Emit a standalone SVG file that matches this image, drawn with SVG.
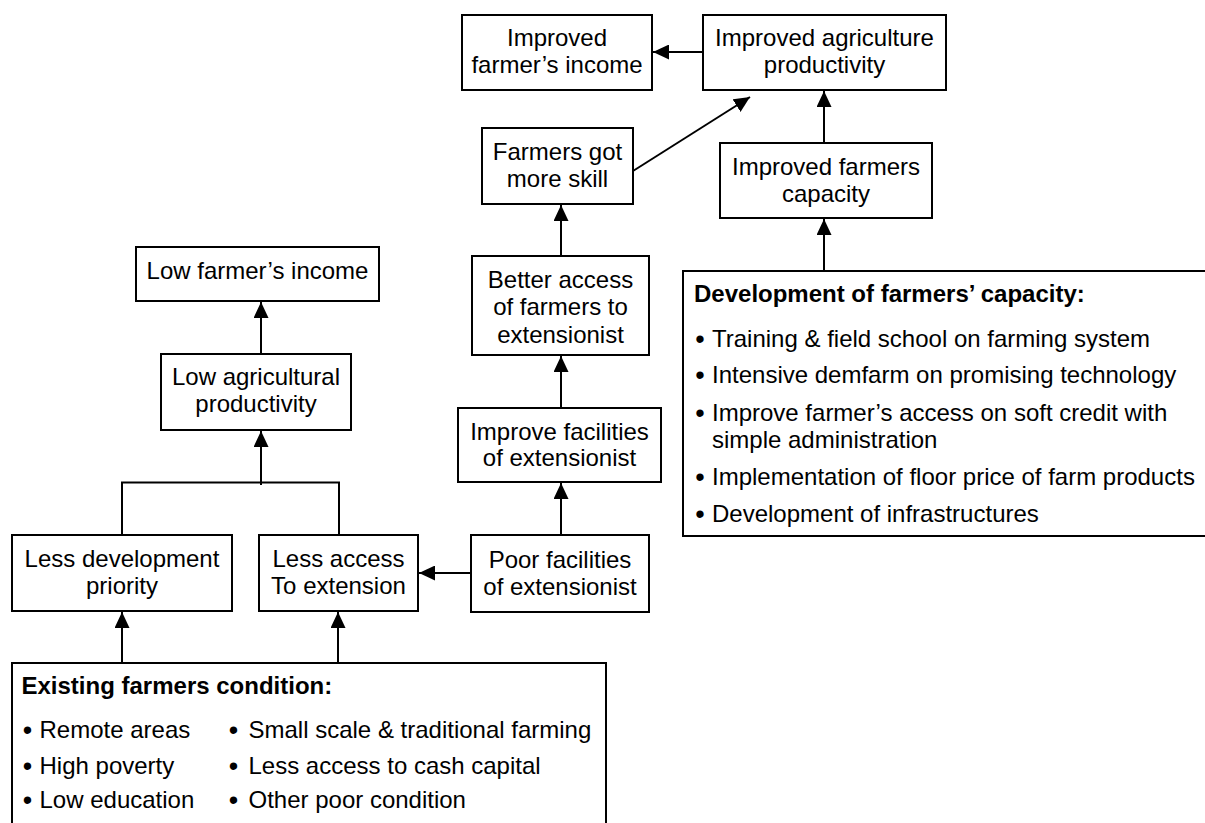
<svg xmlns="http://www.w3.org/2000/svg" width="1205" height="823" viewBox="0 0 1205 823">
<style>
.box{fill:#fff;stroke:#000;stroke-width:2}
.t{font-family:"Liberation Sans",Arial,sans-serif;font-size:24px;fill:#000}
.c{text-anchor:middle}
.b{font-weight:bold}
.bul{font-family:"Liberation Sans",Arial,sans-serif;font-size:27px;fill:#000;text-anchor:middle}
.ln{fill:none;stroke:#000;stroke-width:2}
</style>
<defs>
<marker id="ah" markerUnits="userSpaceOnUse" markerWidth="16" markerHeight="15" refX="16" refY="7.5" orient="auto">
<path d="M0,0 L16,7.5 L0,15 z" fill="#000"/>
</marker>
</defs>
<rect width="1205" height="823" fill="#fff"/>

<g id="connectors">
<line class="ln" x1="703" y1="52" x2="653" y2="52" marker-end="url(#ah)"/>
<line class="ln" x1="633" y1="171" x2="750" y2="97" marker-end="url(#ah)"/>
<line class="ln" x1="824" y1="143" x2="824" y2="91" marker-end="url(#ah)"/>
<line class="ln" x1="824" y1="271" x2="824" y2="219" marker-end="url(#ah)"/>
<line class="ln" x1="561" y1="256" x2="561" y2="205" marker-end="url(#ah)"/>
<line class="ln" x1="561" y1="408" x2="561" y2="356" marker-end="url(#ah)"/>
<line class="ln" x1="561" y1="535" x2="561" y2="483" marker-end="url(#ah)"/>
<line class="ln" x1="471" y1="573" x2="419" y2="573" marker-end="url(#ah)" stroke="#333"/>
<line class="ln" x1="261" y1="354" x2="261" y2="302" marker-end="url(#ah)"/>
<line class="ln" x1="261" y1="485" x2="261" y2="431" marker-end="url(#ah)"/>
<polyline class="ln" points="122,535 122,482.5 339,482.5 339,535"/>
<line class="ln" x1="122" y1="663" x2="122" y2="612" marker-end="url(#ah)"/>
<line class="ln" x1="338" y1="663" x2="338" y2="612" marker-end="url(#ah)"/>
</g>

<g id="improved-income">
<rect class="box" x="462" y="15" width="190" height="75"/>
<text class="t c" x="557" y="45.5">Improved</text>
<text class="t c" x="557" y="73">farmer’s income</text>
</g>

<g id="improved-productivity">
<rect class="box" x="703" y="15" width="243" height="75"/>
<text class="t c" x="824.5" y="45.5">Improved agriculture</text>
<text class="t c" x="824.5" y="73">productivity</text>
</g>

<g id="more-skill">
<rect class="box" x="482" y="128" width="151" height="76"/>
<text class="t c" x="557.5" y="160">Farmers got</text>
<text class="t c" x="557.5" y="187">more skill</text>
</g>

<g id="improved-capacity">
<rect class="box" x="720" y="143" width="212" height="75"/>
<text class="t c" x="826" y="175">Improved farmers</text>
<text class="t c" x="826" y="202">capacity</text>
</g>

<g id="development-capacity">
<rect class="box" x="683" y="271" width="540" height="265"/>
<text class="t b" x="694" y="302">Development of farmers’ capacity:</text>
<text class="bul" x="700" y="348">•</text>
<text class="t" x="712" y="347">Training &amp; field school on farming system</text>
<text class="bul" x="700" y="384">•</text>
<text class="t" x="712" y="383">Intensive demfarm on promising technology</text>
<text class="bul" x="700" y="422">•</text>
<text class="t" x="712" y="421">Improve farmer’s access on soft credit with</text>
<text class="t" x="712" y="448">simple administration</text>
<text class="bul" x="700" y="486">•</text>
<text class="t" x="712" y="485">Implementation of floor price of farm products</text>
<text class="bul" x="700" y="523">•</text>
<text class="t" x="712" y="522">Development of infrastructures</text>
</g>

<g id="better-access">
<rect class="box" x="472" y="256" width="177" height="99"/>
<text class="t c" x="560.5" y="287.5">Better access</text>
<text class="t c" x="560.5" y="315">of farmers to</text>
<text class="t c" x="560.5" y="342.5">extensionist</text>
</g>

<g id="improve-facilities">
<rect class="box" x="458" y="408" width="203" height="74"/>
<text class="t c" x="559.5" y="440">Improve facilities</text>
<text class="t c" x="559.5" y="466">of extensionist</text>
</g>

<g id="poor-facilities">
<rect class="box" x="471" y="535" width="178" height="77"/>
<text class="t c" x="560" y="568">Poor facilities</text>
<text class="t c" x="560" y="595">of extensionist</text>
</g>

<g id="low-income">
<rect class="box" x="136" y="247" width="243" height="54"/>
<text class="t c" x="257.5" y="279">Low farmer’s income</text>
</g>

<g id="low-productivity">
<rect class="box" x="161" y="354" width="190" height="76"/>
<text class="t c" x="256" y="385">Low agricultural</text>
<text class="t c" x="256" y="412">productivity</text>
</g>

<g id="less-development">
<rect class="box" x="12" y="535" width="220" height="76"/>
<text class="t c" x="122" y="567">Less development</text>
<text class="t c" x="122" y="594">priority</text>
</g>

<g id="less-access">
<rect class="box" x="259" y="535" width="159" height="76"/>
<text class="t c" x="338.5" y="567">Less access</text>
<text class="t c" x="338.5" y="594">To extension</text>
</g>

<g id="existing-condition">
<rect class="box" x="12" y="663" width="594" height="180"/>
<text class="t b" x="21.5" y="694">Existing farmers condition:</text>
<text class="bul" x="27.5" y="739">•</text>
<text class="t" x="39.5" y="738">Remote areas</text>
<text class="bul" x="27.5" y="775">•</text>
<text class="t" x="39.5" y="774">High poverty</text>
<text class="bul" x="27.5" y="809">•</text>
<text class="t" x="39.5" y="808">Low education</text>
<text class="bul" x="233.5" y="739">•</text>
<text class="t" x="248.5" y="738">Small scale &amp; traditional farming</text>
<text class="bul" x="233.5" y="775">•</text>
<text class="t" x="248.5" y="774">Less access to cash capital</text>
<text class="bul" x="233.5" y="809">•</text>
<text class="t" x="248.5" y="808">Other poor condition</text>
</g>
</svg>
